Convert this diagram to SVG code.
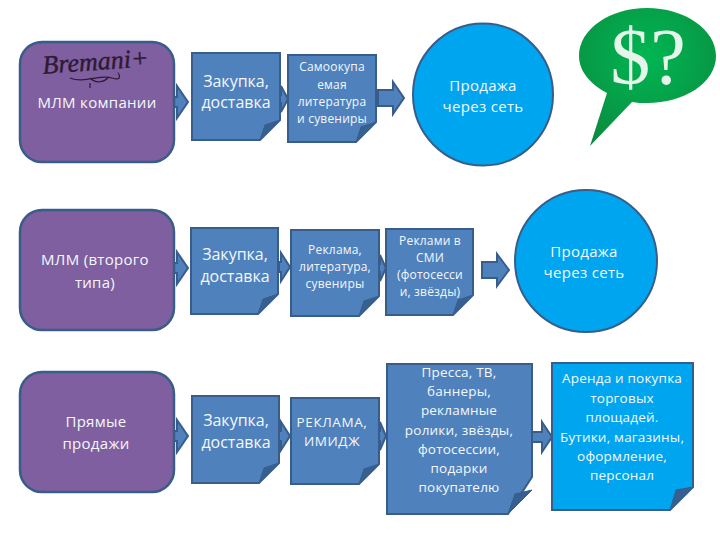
<svg xmlns="http://www.w3.org/2000/svg" width="720" height="540" viewBox="0 0 720 540">
<style>
text{font-family:"Open Sans","DejaVu Sans",sans-serif;fill:#f4f8fc;text-anchor:middle}
.p{fill:#7f5f9f;stroke:#385d8a;stroke-width:2.5}
.n{fill:#4f81bd;stroke:#385d8a;stroke-width:2}
.c{fill:#00a5ef;stroke:#385d8a;stroke-width:2}
.f{fill:#376092;stroke:#385d8a;stroke-width:1}
.a{fill:#4f81bd;stroke:#385d8a;stroke-width:2}
.t1{font-size:15px;letter-spacing:.3px}.t2{font-size:16px}.t3{font-size:12px;letter-spacing:.2px}.t4{font-size:13.5px;letter-spacing:.2px}
.t5{font-size:13.5px;letter-spacing:.6px}
</style>
<defs>
<radialGradient id="g" cx=".5" cy=".35" r=".7"><stop offset="0" stop-color="#00b652"/><stop offset="1" stop-color="#0b8c40"/></radialGradient>
</defs>
<g id="connectors">
<path class="a" d="M174 97h3v-11l11 16-11 16v-11h-3z"/>
<path class="a" d="M280 95h1v-9l7 13-7 13v-9h-1z"/>
<path class="a" d="M378 90h15v-8l11 16-11 16v-8h-15z"/>
<path class="a" d="M174 263h3v-11l11 16-11 16v-11h-3z"/>
<path class="a" d="M279 262h2v-9l9 14-9 14v-9h-2z"/>
<path class="a" d="M379 264h1v-9l6 13-6 13v-9h-1z"/>
<path class="a" d="M482 262h15v-8l12 16-12 16v-8h-15z"/>
<path class="a" d="M174 431h3v-11l11 16-11 16v-11h-3z"/>
<path class="a" d="M279 431h2v-9l9 14-9 14v-9h-2z"/>
<path class="a" d="M379 431h1v-9l6 14-6 14v-9h-1z"/>
<path class="a" d="M532 432h10v-10l10 15-10 15v-10h-10z"/>
</g>
<g id="mlm1">
<rect class="p" x="20" y="42" width="154" height="120" rx="22"/>
<text x="96" y="70" transform="rotate(-4 96 70)" style="font-family:'Liberation Serif',serif;font-style:italic;font-size:26px;fill:#2e1a33;stroke:#2e1a33;stroke-width:.4">Bremani+</text>
<path d="M70 78c14 6 30-4 42 0s6-6 6-5M90 78c6 6 14 4 18 0M90 83v5" fill="none" stroke="#2e1a33" stroke-width="1.2"/>
<text class="t1" x="97" y="108">МЛМ компании</text>
</g>
<g id="zakupka1">
<path class="n" d="M192 53h88v67l-20 20h-68z"/><path class="f" d="M280 120l-20 20 5-15z"/>
<text class="t2" x="236" y="87">Закупка,</text><text class="t2" x="236" y="108">доставка</text>
</g>
<g id="samo">
<path class="n" d="M288 55h88v67l-20 20h-68z"/><path class="f" d="M376 122l-20 20 5-15z"/>
<text class="t3" x="332" y="71">Самоокупа</text><text class="t3" x="332" y="89">емая</text><text class="t3" x="332" y="106">литература</text><text class="t3" x="332" y="123">и сувениры</text>
</g>
<g id="sale1">
<ellipse class="c" cx="483" cy="94.5" rx="70" ry="71"/>
<text class="t1" x="483" y="91">Продажа</text><text class="t1" x="483" y="112">через сеть</text>
</g>
<g id="bubble">
<path d="M579 56c0-27 31-48 68-48s69 21 69 48-32 47-69 47c-5 0-10 0-15-1l-42 44 17-53c-17-9-28-22-28-37z" fill="url(#g)"/>
<text x="648" y="84" style="font-family:'Liberation Serif',serif;font-size:80px;fill:#e6f5ea">$?</text>
</g>
<g id="mlm2">
<rect class="p" x="20" y="210" width="154" height="120" rx="22"/>
<text class="t1" x="95" y="265">МЛМ (второго</text><text class="t1" x="95" y="288">типа)</text>
</g>
<g id="zakupka2">
<path class="n" d="M191 228h87v66l-20 20h-67z"/><path class="f" d="M278 294l-20 20 5-15z"/>
<text class="t2" x="235" y="260">Закупка,</text><text class="t2" x="235" y="282">доставка</text>
</g>
<g id="reklama">
<path class="n" d="M291 230h88v66l-20 20h-68z"/><path class="f" d="M379 296l-20 20 5-15z"/>
<text class="t3" x="335" y="254">Реклама,</text><text class="t3" x="335" y="271">литература,</text><text class="t3" x="335" y="288">сувениры</text>
</g>
<g id="smi">
<path class="n" d="M386 229h87v66l-20 20h-67z"/><path class="f" d="M473 295l-20 20 5-15z"/>
<text class="t3" x="430" y="245">Реклами в</text><text class="t3" x="430" y="262">СМИ</text><text class="t3" x="430" y="279">(фотосесси</text><text class="t3" x="430" y="296">и, звёзды)</text>
</g>
<g id="sale2">
<circle class="c" cx="586" cy="261" r="71"/>
<text class="t1" x="584" y="257">Продажа</text><text class="t1" x="584" y="278">через сеть</text>
</g>
<g id="direct">
<rect class="p" x="20" y="372" width="154" height="120" rx="22"/>
<text class="t1" x="96" y="427">Прямые</text><text class="t1" x="96" y="449">продажи</text>
</g>
<g id="zakupka3">
<path class="n" d="M192 396h87v67l-20 20h-67z"/><path class="f" d="M279 463l-20 20 5-15z"/>
<text class="t2" x="236" y="426">Закупка,</text><text class="t2" x="236" y="448">доставка</text>
</g>
<g id="image">
<path class="n" d="M291 398h88v66l-20 20h-68z"/><path class="f" d="M379 464l-20 20 5-15z"/>
<text class="t5" x="332" y="427">РЕКЛАМА,</text><text class="t5" x="332" y="446">ИМИДЖ</text>
</g>
<g id="press">
<path class="n" d="M387 364h145v113l-24 37h-121z"/><path class="f" d="M532 490l-24 24 7-20z"/>
<text class="t4" x="459" y="377">Пресса, ТВ,</text><text class="t4" x="459" y="396">баннеры,</text><text class="t4" x="459" y="415">рекламные</text><text class="t4" x="459" y="435">ролики, звёзды,</text><text class="t4" x="459" y="454">фотосессии,</text><text class="t4" x="459" y="473">подарки</text><text class="t4" x="459" y="492">покупателю</text>
</g>
<g id="rent">
<path d="M552 363h141v124l-23 23h-118z" fill="#00a5ef" stroke="#385d8a" stroke-width="2"/><path class="f" d="M693 487l-23 23 6-20z"/>
<text class="t4" x="622" y="383">Аренда и покупка</text><text class="t4" x="622" y="403">торговых</text><text class="t4" x="622" y="422">площадей.</text><text class="t4" x="622" y="442">Бутики, магазины,</text><text class="t4" x="622" y="461">оформление,</text><text class="t4" x="622" y="480">персонал</text>
</g>
</svg>
